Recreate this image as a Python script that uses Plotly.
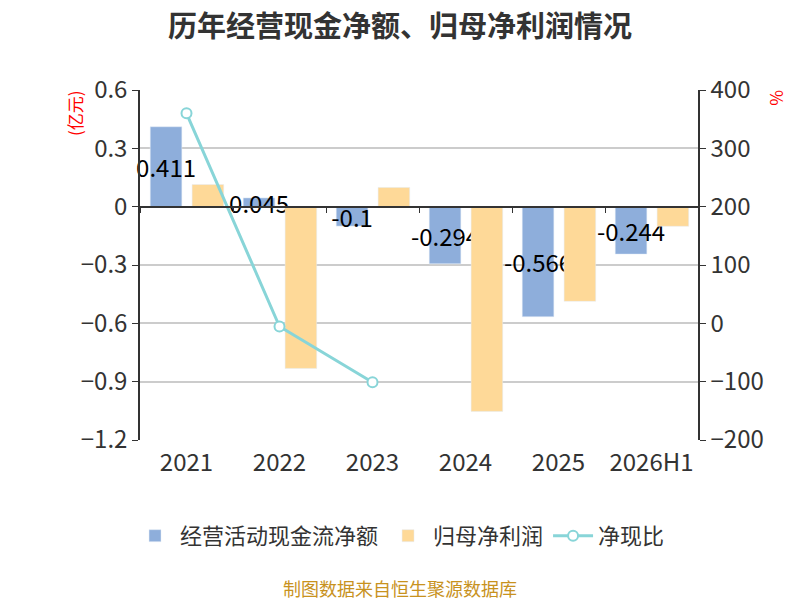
import plotly.graph_objects as go

# 年度
years = ['2021', '2022', '2023', '2024', '2025', '2026H1']
# 经营活动现金流净额 (亿元)
cash_flow = [0.411, 0.045, -0.1, -0.294, -0.566, -0.244]
# 归母净利润 (亿元)
net_profit = [0.114, -0.832, 0.099, -1.053, -0.487, -0.101]
# 净现比 (%)
cash_ratio = [360, -5.4, -101, None, None, None]

font_cn = 'Noto Sans CJK SC'

fig = go.Figure()

fig.add_trace(go.Bar(
    x=years, y=cash_flow, name='经营活动现金流净额',
    marker=dict(color='#8eaedb'),
    width=0.34, offset=-0.39,
    text=[str(v) for v in cash_flow],
    textposition='inside', insidetextanchor='middle', textangle=0,
    constraintext='none', cliponaxis=False,
    insidetextfont=dict(color='#000000', size=24, family=font_cn),
    hoverinfo='x+y',
))

fig.add_trace(go.Bar(
    x=years, y=net_profit, name='归母净利润',
    marker=dict(color='#fed998'),
    width=0.34, offset=0.06,
    hoverinfo='x+y',
))

fig.add_trace(go.Scatter(
    x=years, y=cash_ratio, name='净现比', yaxis='y2',
    mode='lines+markers',
    line=dict(color='#88d5d8', width=3),
    marker=dict(symbol='circle', size=10, color='#ffffff',
                line=dict(color='#88d5d8', width=2)),
    connectgaps=False,
))

# 页面 body 有 8px 边距，这里把边距往左上挪 8px
fig.update_layout(
    width=800, height=600,
    paper_bgcolor='white', plot_bgcolor='white',
    font=dict(family=font_cn, color='#333333', size=24),
    margin=dict(l=132, r=110, t=82, b=168),
    title=dict(text='<b>历年经营现金净额、归母净利润情况</b>', x=0.49, xanchor='center',
               y=0.969, yanchor='middle', font=dict(size=29, color='#333333')),
    barmode='overlay',
    showlegend=True,
    legend=dict(orientation='h', x=0.466, xanchor='center', y=-0.274, yanchor='middle',
                font=dict(size=22, color='#333333'), itemwidth=40),
    xaxis=dict(
        type='category', showgrid=False, showline=False, ticks='',
        tickfont=dict(size=24, color='#333333'), ticklabelstandoff=6,
    ),
    xaxis2=dict(
        overlaying='x', matches='x', anchor='free', position=2 / 3,
        showline=True, linecolor='#333333', linewidth=1.5,
        ticks='outside', tickson='boundaries', ticklen=6, tickcolor='#333333',
        showticklabels=False, showgrid=False,
    ),
    yaxis=dict(
        range=[-1.2, 0.6], dtick=0.3, tick0=0,
        showgrid=True, gridcolor='#cccccc', gridwidth=1.5,
        zeroline=False,
        showline=True, linecolor='#333333', linewidth=1.5,
        ticks='outside', ticklen=6, tickcolor='#333333',
        tickfont=dict(size=24, color='#333333'),
    ),
    yaxis2=dict(
        range=[-200, 400], dtick=100, overlaying='y', side='right',
        showgrid=False, zeroline=False,
        showline=True, linecolor='#333333', linewidth=1.5,
        ticks='outside', ticklen=6, tickcolor='#333333',
        tickfont=dict(size=24, color='#333333'),
    ),
    annotations=[
        dict(text='(亿元)', xref='paper', yref='paper', x=-0.1165, y=1.006,
             xanchor='center', yanchor='top', textangle=-90, showarrow=False,
             font=dict(size=17, color='#ff0000')),
        dict(text='%', xref='paper', yref='paper', x=1.1416, y=1.006,
             xanchor='center', yanchor='top', textangle=90, showarrow=False,
             font=dict(size=17, color='#ff0000')),
        dict(text='制图数据来自恒生聚源数据库', xref='paper', yref='paper', x=0.466, y=-0.424,
             xanchor='center', yanchor='middle', showarrow=False,
             font=dict(size=18, color='#c8921e')),
    ],
)

# 零线处的分类轴
fig.add_trace(go.Scatter(x=years, y=[None] * len(years), xaxis='x2', showlegend=False,
                         hoverinfo='skip'))

fig.write_html('out.html')
